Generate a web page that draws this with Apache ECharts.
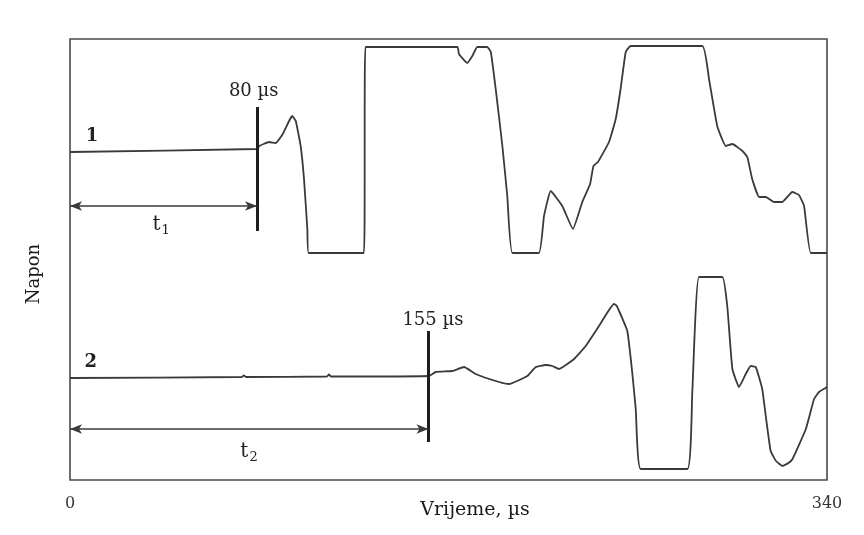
<!DOCTYPE html>
<html>
<head>
<meta charset="utf-8">
<script src="https://cdn.jsdelivr.net/npm/echarts@6/dist/echarts.min.js"></script>
<style>
  html, body { margin: 0; background: #fff; }
  #chart { width: 864px; height: 535px; }
</style>
</head>
<body>
<div id="chart"></div>
<script>
// vrijeme (µs) i napon (relativno, bez skale) za oba zapisa
const trace1Time = [0, 84, 85, 89.4, 92.4, 95.3, 98.4, 99.8, 101.4, 103.6, 105.1, 106.6, 107.2, 132.0, 132.7, 174.0, 174.7, 178.4, 180.7, 182.9, 187.4, 189.0, 191.2, 194.2, 196.4, 198.7, 210.6, 212.9, 215.9, 221.1, 225.9, 230.1, 233.6, 235.1, 237.1, 242.1, 245.1, 247.3, 249.6, 251.8, 284.0, 287.0, 290.7, 294.5, 297.5, 302.0, 304.2, 306.4, 309.5, 312.5, 316.2, 319.9, 324.4, 327.4, 329.7, 332.7, 340]
const trace1Volt = [328, 331, 334, 338, 337, 345, 359, 364, 359, 334, 301, 251, 227, 227, 433, 433, 426, 417, 424, 433, 433, 428, 391, 334, 284, 227, 227, 264, 289, 274, 251, 278, 296, 314, 318, 338, 361, 391, 428, 434, 434, 401, 354, 334, 336, 329, 323, 301, 283, 283, 278, 278, 288, 285, 274, 227, 227]

const trace2Time = [0, 77.2, 78.1, 79.0, 115.4, 116.3, 117.2, 161.2, 164.3, 171.7, 177.0, 182.2, 192.7, 197.2, 205.4, 209.2, 213.7, 216.6, 219.6, 226.4, 231.6, 237.6, 244.3, 245.6, 250.3, 252.5, 254.1, 256.3, 277.3, 279.5, 282.5, 293.0, 295.2, 297.5, 300.5, 303.5, 305.7, 308.0, 310.9, 312.5, 314.7, 317.1, 320.0, 322.7, 324.5, 330.5, 334.2, 336.4, 340]
const trace2Volt = [102, 103, 104.5, 103, 103.5, 105.5, 103.5, 104, 108, 109, 113, 106, 98, 96, 104, 113, 115, 114, 111, 121, 134, 154, 176, 174, 149, 108, 71, 11, 11, 88, 203, 203, 174, 111, 93, 106, 114, 113, 91, 64, 29, 19, 14, 17, 21, 51, 81, 88, 93]

// okidni trenuci (t1, t2)
const markerTime = [84, 161]
const markerLow = [249, 38]
const markerHigh = [373, 149]
const arrowVolt = [274, 51]

// natpisi na slici
const noteTime = [9.9, 9.3, 82.5, 163, 40.9, 80.4]
const noteVolt = [344, 118, 389, 160, 255, 28]
const noteText = ['{n|1}', '{n|2}', '{m|80 µs}', '{m|155 µs}', '{t|t}{s|1}', '{t|t}{s|2}']

const xTicks = [0, 340]

const FONT = 'DejaVu Serif'
const INK = '#3a3a3a'

const zip = (xs, ys) => xs.map((x, i) => [x, ys[i]])

const chart = echarts.init(document.getElementById('chart'))

const markLines = []
markerTime.forEach((t, i) => {
  markLines.push([
    { coord: [t, markerLow[i]], symbol: 'none', lineStyle: { width: 3, color: '#1e1e1e', type: 'solid' } },
    { coord: [t, markerHigh[i]], symbol: 'none' },
  ])
  markLines.push([
    { coord: [0, arrowVolt[i]], lineStyle: { width: 1.6, color: INK, type: 'solid' } },
    { coord: [t, arrowVolt[i]] },
  ])
})

const option = {
  animation: false,
  grid: {
    left: 70,
    top: 39,
    width: 757,
    height: 441,
    show: true,
    borderColor: '#4a4a4a',
    borderWidth: 1.6,
  },
  xAxis: {
    type: 'value',
    min: 0,
    max: 340,
    interval: 340,
    axisLine: { show: false },
    axisTick: { show: false },
    splitLine: { show: false },
    axisLabel: {
      fontFamily: FONT,
      fontSize: 16,
      color: '#333',
      margin: 16,
      formatter: (v) => (xTicks.includes(v) ? String(v) : ''),
    },
  },
  yAxis: {
    type: 'value',
    min: 0,
    max: 441,
    axisLine: { show: false },
    axisTick: { show: false },
    axisLabel: { show: false },
    splitLine: { show: false },
  },
  graphic: [
    {
      type: 'text',
      x: 475,
      y: 510,
      style: { text: 'Vrijeme, µs', font: '19px "DejaVu Serif"', fill: '#1a1a1a', textAlign: 'center', textVerticalAlign: 'middle' },
    },
    {
      type: 'text',
      x: 34,
      y: 274,
      rotation: Math.PI / 2,
      style: { text: 'Napon', font: '18px "DejaVu Serif"', fill: '#1a1a1a', textAlign: 'center', textVerticalAlign: 'middle' },
    },
  ],
  series: [
    {
      name: '1',
      type: 'line',
      data: zip(trace1Time, trace1Volt),
      showSymbol: false,
      smooth: 0.12,
      lineStyle: { color: INK, width: 1.8 },
      silent: true,
    },
    {
      name: '2',
      type: 'line',
      data: zip(trace2Time, trace2Volt),
      showSymbol: false,
      smooth: 0.12,
      lineStyle: { color: INK, width: 1.8 },
      silent: true,
    },
    {
      name: 'oznake',
      type: 'line',
      data: [],
      silent: true,
      markLine: {
        silent: true,
        symbol: ['arrow', 'arrow'],
        symbolSize: [7, 12],
        label: { show: false },
        data: markLines,
      },
    },
    {
      name: 'natpisi',
      type: 'scatter',
      symbolSize: 0,
      silent: true,
      itemStyle: { opacity: 1 },
      data: noteTime.map((t, i) => [t, noteVolt[i], noteText[i]]),
      label: {
        show: true,
        position: 'inside',
        formatter: (p) => p.data[2],
        rich: {
          n: { fontFamily: FONT, fontSize: 18, fontWeight: 'bold', color: '#222' },
          m: { fontFamily: FONT, fontSize: 18, color: '#222' },
          t: { fontFamily: FONT, fontSize: 20, color: '#222' },
          s: { fontFamily: FONT, fontSize: 13, color: '#222', padding: [12, 0, 0, 1] },
        },
      },
    },
  ],
}

chart.setOption(option)
</script>
</body>
</html>
